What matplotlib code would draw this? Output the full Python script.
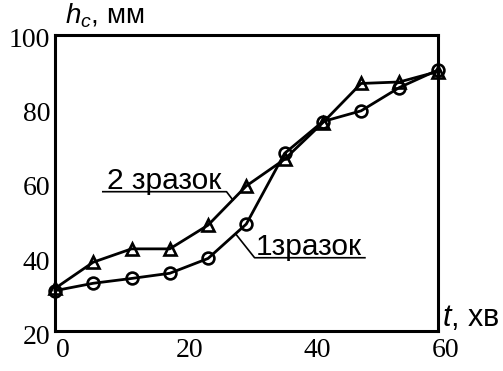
import matplotlib
matplotlib.use("Agg")
import matplotlib.pyplot as plt
from matplotlib.ticker import FixedLocator
from matplotlib.transforms import ScaledTranslation

plt.rcParams['font.family'] = 'serif'
plt.rcParams['font.serif'] = ['Liberation Serif', 'DejaVu Serif']
plt.rcParams['mathtext.fontset'] = 'custom'
plt.rcParams['mathtext.it'] = 'Liberation Sans:italic'
plt.rcParams['mathtext.rm'] = 'Liberation Sans'

# data
t_min = [0, 6, 12, 18, 24, 30, 36, 42, 48, 54, 60]
sample1 = [30.9, 32.9, 34.2, 35.6, 39.6, 48.9, 68.0, 76.6, 79.5, 85.8, 90.5]
sample2 = [31.5, 38.6, 42.2, 42.2, 48.6, 59.2, 66.4, 76.3, 86.9, 87.3, 90.1]
x_labels = [0, 20, 40, 60]
y_labels = [20, 40, 60, 80, 100]
x_marks = [20, 40]
y_marks = [40, 60, 80]

fig = plt.figure(figsize=(5.03, 3.71), dpi=100)
ax = fig.add_axes([0.1093, 0.1078, 0.7607, 0.7979])
ax.set_xlim(0, 60)
ax.set_ylim(20, 100)

lw = 2.0
ax.plot(t_min, sample1, color='black', lw=lw, marker='o', ms=8.5,
        mfc='none', mec='black', mew=1.9, clip_on=False, zorder=3)
ax.plot(t_min, sample2, color='black', lw=lw, marker='^', ms=9,
        mfc='none', mec='black', mew=1.9, clip_on=False, zorder=3)

for s in ax.spines.values():
    s.set_linewidth(2.2)

ax.xaxis.set_major_locator(FixedLocator(x_labels))
ax.yaxis.set_major_locator(FixedLocator(y_labels))
ax.xaxis.set_minor_locator(FixedLocator(x_marks))
ax.yaxis.set_minor_locator(FixedLocator(y_marks))
ax.tick_params(which='major', length=0, labelsize=20)
ax.tick_params(which='minor', direction='in', length=11.5, width=2.2,
               top=True, right=True, bottom=True, left=True)

xpad, ypad = 5, 3.5
ax.tick_params(axis='x', which='major', pad=xpad)
ax.tick_params(axis='y', which='major', pad=ypad)
xbase = ax.get_xaxis_text1_transform(xpad)[0]
ybase = ax.get_yaxis_text1_transform(ypad)[0]
xshift = ScaledTranslation(7.5 / 100, 0, fig.dpi_scale_trans)
yshift = ScaledTranslation(0, -3 / 100, fig.dpi_scale_trans)
for lab in ax.xaxis.get_majorticklabels():
    lab.set_transform(xbase + xshift)
for lab in ax.yaxis.get_majorticklabels():
    lab.set_transform(ybase + yshift)

# axis titles
fig.text(65 / 503, 1 - 23.5 / 371, r'$h_c$, мм', fontsize=20,
         family='Liberation Sans', ha='left', va='baseline')
fig.text(442 / 503, 1 - 326.5 / 371, r'$t$, хв', fontsize=22,
         family='Liberation Sans', ha='left', va='baseline')

# annotations with underline and leader
ax.text(8.1, 58.3, '2 зразок', fontsize=21.5, family='Liberation Sans',
        ha='left', va='baseline')
ax.plot([7.5, 26.9, 27.9], [57.65, 57.65, 55.4], color='black', lw=1.2,
        clip_on=False)
ax.text(31.5, 40.5, '1зразок', fontsize=21.5, family='Liberation Sans',
        ha='left', va='baseline')
ax.plot([28.4, 31.3, 48.6], [46.1, 39.8, 39.8], color='black', lw=1.2,
        clip_on=False)

fig.savefig('out.png', dpi=100)
